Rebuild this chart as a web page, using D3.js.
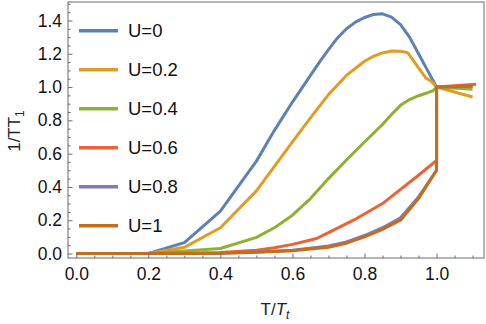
<!DOCTYPE html>
<html>
<head>
<meta charset="utf-8">
<script src="https://cdn.jsdelivr.net/npm/d3@7"></script>
<style>
  html, body { margin: 0; padding: 0; background: #fff; }
  svg { display: block; font-family: "Liberation Sans", Arial, sans-serif; }
</style>
</head>
<body>
<svg id="chart" width="486" height="324"></svg>
<script>
// ---- data ----
const seriesNames = ["U=0", "U=0.2", "U=0.4", "U=0.6", "U=0.8", "U=1"];
const seriesColors = ["#5E81B5", "#E19C24", "#8FB032", "#EB6235", "#8778B3", "#C56E1A"];

const u0T = [0, 0.1, 0.2, 0.3, 0.4, 0.5, 0.55, 0.6, 0.65, 0.675, 0.7, 0.725, 0.75, 0.775, 0.8, 0.825, 0.85, 0.875, 0.9, 0.925, 0.95, 0.975, 1.0];
const u0V = [0, 0, 0, 0.065, 0.255, 0.555, 0.74, 0.91, 1.07, 1.15, 1.225, 1.295, 1.35, 1.39, 1.418, 1.436, 1.44, 1.42, 1.375, 1.3, 1.2, 1.1, 1.0];

const u02T = [0, 0.1, 0.2, 0.3, 0.4, 0.5, 0.6, 0.65, 0.7, 0.75, 0.8, 0.825, 0.85, 0.875, 0.9, 0.92, 0.95, 0.97, 0.985, 1.0, 1.1];
const u02V = [0, 0, 0, 0.037, 0.155, 0.376, 0.67, 0.815, 0.955, 1.07, 1.155, 1.185, 1.205, 1.217, 1.215, 1.207, 1.115, 1.055, 1.035, 1.0, 0.94];

const u04T = [0, 0.1, 0.2, 0.3, 0.4, 0.5, 0.55, 0.6, 0.65, 0.7, 0.75, 0.8, 0.85, 0.875, 0.9, 0.925, 0.95, 0.975, 0.99, 1.0, 1.1];
const u04V = [0, 0, 0.002, 0.015, 0.03, 0.097, 0.155, 0.23, 0.33, 0.45, 0.562, 0.67, 0.775, 0.835, 0.89, 0.925, 0.948, 0.966, 0.978, 1.0, 0.987];

const u06T = [0, 0.1, 0.2, 0.3, 0.4, 0.5, 0.55, 0.6, 0.667, 0.7, 0.778, 0.85, 0.9, 0.95, 1.0, 1.0, 1.11];
const u06V = [0, 0, 0, 0.002, 0.006, 0.02, 0.035, 0.055, 0.09, 0.125, 0.21, 0.30, 0.385, 0.47, 0.56, 1.0, 1.017];

const u08T = [0, 0.1, 0.2, 0.3, 0.4, 0.5, 0.6, 0.7, 0.75, 0.8, 0.85, 0.9, 0.95, 1.0, 1.0, 1.1];
const u08V = [0, 0, 0, 0, 0.002, 0.009, 0.02, 0.045, 0.07, 0.108, 0.155, 0.215, 0.34, 0.5, 1.0, 1.005];

const u1T = [0, 0.1, 0.2, 0.3, 0.4, 0.5, 0.6, 0.7, 0.75, 0.8, 0.85, 0.9, 0.95, 1.0, 1.0, 1.1];
const u1V = [0, 0, 0, 0, 0.001, 0.007, 0.017, 0.038, 0.062, 0.1, 0.145, 0.2, 0.33, 0.5, 1.0, 1.005];

const xTicks = [0.0, 0.2, 0.4, 0.6, 0.8, 1.0];
const yTicks = [0.0, 0.2, 0.4, 0.6, 0.8, 1.0, 1.2, 1.4];

const seriesT = [u0T, u02T, u04T, u06T, u08T, u1T];
const seriesV = [u0V, u02V, u04V, u06V, u08V, u1V];

// ---- layout ----
const svg = d3.select("#chart");
const frame = { left: 68, right: 484, top: 2, bottom: 258 };
const x = d3.scaleLinear().domain([-0.023, 1.1317]).range([frame.left, frame.right]);
const y = d3.scaleLinear().domain([-0.027, 1.511]).range([frame.bottom, frame.top]);
const frameColor = "#6b6b6b";

// lines
const line = d3.line().x(d => x(d[0])).y(d => y(d[1]));
seriesNames.forEach((name, i) => {
  const pts = seriesT[i].map((t, j) => [t, seriesV[i][j]]);
  svg.append("path")
    .attr("d", line(pts))
    .attr("fill", "none")
    .attr("stroke", seriesColors[i])
    .attr("stroke-width", 3)
    .attr("stroke-linejoin", "round");
});

// frame
svg.append("rect")
  .attr("x", frame.left).attr("y", frame.top)
  .attr("width", frame.right - frame.left).attr("height", frame.bottom - frame.top)
  .attr("fill", "none").attr("stroke", frameColor).attr("stroke-width", 1);

// minor ticks
const xMinor = d3.range(0, 1.13, 0.05).filter(v => xTicks.every(t => Math.abs(t - v) > 1e-6));
const yMinor = d3.range(0, 1.51, 0.05).filter(v => yTicks.every(t => Math.abs(t - v) > 1e-6));

const gxMinor = svg.append("g").attr("transform", `translate(0,${frame.bottom})`)
  .call(d3.axisBottom(x).tickValues(xMinor).tickSize(-2.5).tickFormat(""));
const gyMinor = svg.append("g").attr("transform", `translate(${frame.left},0)`)
  .call(d3.axisLeft(y).tickValues(yMinor).tickSize(-2.5).tickFormat(""));

const gx = svg.append("g").attr("transform", `translate(0,${frame.bottom})`)
  .call(d3.axisBottom(x).tickValues(xTicks).tickSize(-4.5).tickPadding(10).tickFormat(d3.format(".1f")));
const gy = svg.append("g").attr("transform", `translate(${frame.left},0)`)
  .call(d3.axisLeft(y).tickValues(yTicks).tickSize(-4.5).tickPadding(6).tickFormat(d3.format(".1f")));

[gxMinor, gyMinor, gx, gy].forEach(g => {
  g.select(".domain").remove();
  g.selectAll(".tick line").attr("stroke", frameColor);
});
[gx, gy].forEach(g => {
  g.selectAll(".tick text")
    .attr("fill", "#111")
    .style("font-size", "17.5px")
    .style("font-family", "'Liberation Sans', Arial, sans-serif");
});

// axis labels
const xl = svg.append("text")
  .attr("x", 275).attr("y", 315)
  .attr("text-anchor", "middle")
  .style("font-size", "17px").attr("fill", "#222");
xl.append("tspan").text("T/");
xl.append("tspan").style("font-style", "italic").text("T");
xl.append("tspan").attr("dy", 4).style("font-size", "12px").style("font-style", "italic").text("t");

const yl = svg.append("text")
  .attr("transform", "translate(20,131) rotate(-90)")
  .attr("text-anchor", "middle")
  .style("font-size", "17px").attr("fill", "#222");
yl.append("tspan").text("1/TT");
yl.append("tspan").attr("dy", 4).style("font-size", "12px").text("1");

// legend
const legend = svg.append("g");
seriesNames.forEach((name, i) => {
  const cy = 30.7 + i * 39;
  legend.append("line")
    .attr("x1", 79).attr("x2", 118).attr("y1", cy).attr("y2", cy)
    .attr("stroke", seriesColors[i]).attr("stroke-width", 3.5);
  legend.append("text")
    .attr("x", 128).attr("y", cy + 6.6)
    .style("font-size", "18.5px").attr("fill", "#111")
    .text(name);
});
</script>
</body>
</html>
